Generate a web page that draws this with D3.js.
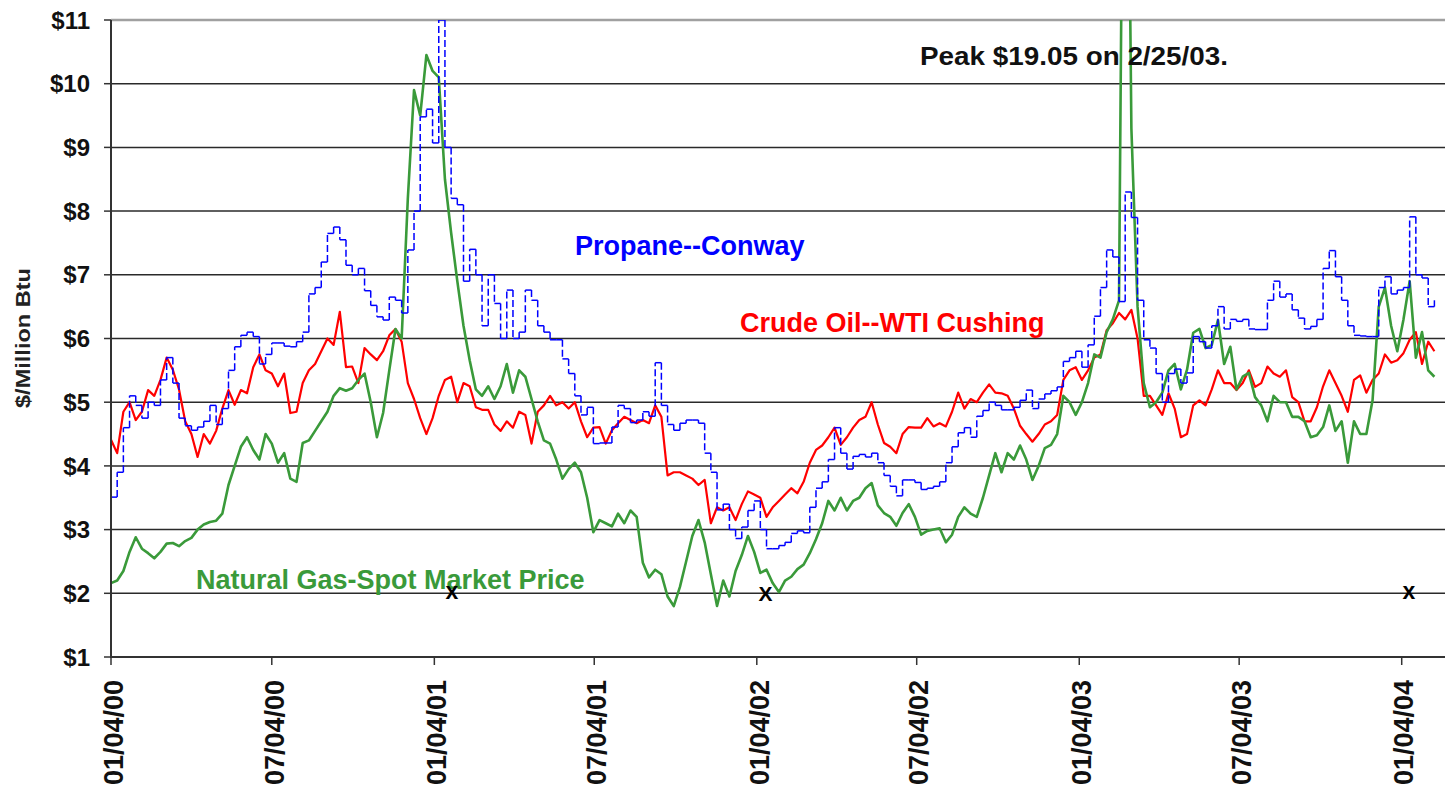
<!DOCTYPE html>
<html><head><meta charset="utf-8">
<script src="https://cdn.jsdelivr.net/npm/d3@7"></script>
<style>
html,body{margin:0;padding:0;background:#fff;}
svg{display:block;font-family:"Liberation Sans",Arial,Helvetica,sans-serif;}
</style></head><body>
<svg id="chart" width="1445" height="796"></svg>
<script>
// ---- data (weekly readings starting 2000-01-04) ----
const startDate = "2000-01-04";
const endDate = "2004-02-22";
const stepDays = 7;

const propane = [3.51,3.90,4.60,5.10,4.95,4.75,5.00,4.95,5.35,5.70,
5.30,4.75,4.63,4.56,4.61,4.70,4.95,4.65,4.90,5.50,
5.87,6.05,6.10,6.03,5.60,5.75,5.93,5.93,5.88,5.87,
5.95,6.10,6.70,6.80,7.20,7.65,7.75,7.55,7.15,7.00,
7.10,6.75,6.52,6.34,6.29,6.65,6.60,6.40,7.39,8.00,
9.48,9.60,9.07,11.00,9.00,8.20,8.10,6.90,7.40,7.00,
6.20,7.00,6.55,6.00,6.76,6.00,6.10,6.76,6.60,6.20,
6.10,5.98,5.98,5.68,5.45,5.10,4.80,4.92,4.35,4.36,
4.36,4.61,4.95,4.90,4.68,4.72,4.85,4.78,5.62,4.95,
4.65,4.56,4.67,4.72,4.72,4.67,4.20,3.90,3.31,3.40,
3.00,2.86,3.04,3.30,3.45,3.00,2.70,2.70,2.75,2.80,
2.94,2.98,2.95,3.35,3.65,3.75,4.10,4.60,4.20,3.95,
4.15,4.18,4.14,4.20,4.05,3.85,3.68,3.53,3.78,3.78,
3.74,3.63,3.65,3.68,3.75,4.05,4.30,4.52,4.60,4.45,
4.78,4.87,5.00,4.95,4.88,4.88,4.92,5.03,5.19,4.90,
5.05,5.13,5.18,5.24,5.64,5.70,5.80,5.55,5.90,6.35,
6.80,7.39,7.28,6.58,8.30,7.90,6.60,5.98,5.85,5.45,
5.00,5.45,5.52,5.30,5.46,6.03,5.95,5.85,6.20,6.50,
6.15,6.30,6.27,6.30,6.15,6.14,6.14,6.60,6.90,6.65,
6.70,6.45,6.32,6.15,6.19,6.30,7.10,7.38,6.97,6.60,
6.20,6.05,6.04,6.03,6.03,6.80,6.97,6.70,6.76,6.80,
7.91,7.00,6.95,6.50,6.60];

const crude = [4.41,4.20,4.85,5.00,4.72,4.85,5.19,5.10,5.35,5.70,
5.51,5.20,4.70,4.50,4.14,4.50,4.35,4.55,4.90,5.19,
4.96,5.19,5.14,5.55,5.75,5.50,5.45,5.25,5.45,4.83,
4.85,5.30,5.50,5.60,5.80,6.00,5.90,6.42,5.55,5.56,
5.30,5.85,5.75,5.66,5.80,6.05,6.15,5.95,5.30,5.05,
4.75,4.50,4.75,5.10,5.35,5.40,5.00,5.30,5.25,4.92,
4.88,4.88,4.65,4.55,4.70,4.60,4.85,4.80,4.35,4.85,
4.95,5.10,4.95,5.00,4.90,5.00,4.70,4.45,4.60,4.61,
4.35,4.56,4.67,4.77,4.72,4.67,4.72,4.67,4.95,4.77,
3.85,3.90,3.90,3.85,3.80,3.70,3.78,3.10,3.35,3.30,
3.35,3.15,3.40,3.60,3.55,3.50,3.20,3.35,3.45,3.55,
3.65,3.57,3.75,4.05,4.25,4.32,4.45,4.60,4.33,4.45,
4.60,4.72,4.77,5.00,4.65,4.36,4.30,4.20,4.50,4.61,
4.60,4.60,4.75,4.62,4.67,4.62,4.85,5.15,4.90,5.05,
5.00,5.15,5.28,5.15,5.14,5.10,4.90,4.63,4.50,4.38,
4.50,4.65,4.70,4.80,5.35,5.50,5.55,5.35,5.50,5.70,
5.75,6.13,6.24,6.40,6.30,6.45,6.00,5.10,5.10,4.95,
4.80,5.14,4.90,4.45,4.50,4.95,5.03,4.95,5.20,5.50,
5.30,5.30,5.19,5.30,5.50,5.24,5.30,5.56,5.45,5.40,
5.50,5.08,5.00,4.70,4.70,4.92,5.25,5.50,5.30,5.10,
4.85,5.35,5.42,5.15,5.35,5.45,5.75,5.62,5.66,5.77,
5.98,6.10,5.60,5.95,5.80];

const gas = [2.16,2.20,2.35,2.65,2.88,2.70,2.63,2.55,2.65,2.78,
2.79,2.74,2.82,2.87,3.00,3.08,3.12,3.14,3.25,3.70,
4.00,4.30,4.45,4.25,4.10,4.50,4.35,4.05,4.20,3.80,
3.75,4.36,4.40,4.55,4.70,4.85,5.10,5.22,5.18,5.22,
5.35,5.45,5.00,4.45,4.83,5.50,6.15,6.00,8.20,9.90,
9.50,10.45,10.20,10.10,8.50,7.66,6.90,6.20,5.66,5.20,
5.10,5.25,5.05,5.25,5.60,5.15,5.50,5.40,5.05,4.70,
4.40,4.35,4.10,3.80,3.95,4.05,3.90,3.50,2.96,3.15,
3.10,3.05,3.25,3.10,3.30,3.20,2.48,2.25,2.37,2.30,
1.95,1.80,2.10,2.50,2.90,3.15,2.80,2.30,1.80,2.20,
1.95,2.35,2.60,2.90,2.65,2.32,2.37,2.16,2.02,2.20,
2.26,2.38,2.45,2.63,2.85,3.10,3.45,3.30,3.50,3.30,
3.45,3.50,3.65,3.73,3.38,3.26,3.20,3.06,3.26,3.40,
3.20,2.92,2.98,3.00,3.02,2.80,2.92,3.20,3.35,3.25,
3.20,3.50,3.85,4.20,3.90,4.20,4.10,4.32,4.10,3.78,
4.00,4.28,4.33,4.50,5.10,5.00,4.80,5.00,5.30,5.75,
5.70,6.10,6.30,6.60,19.05,9.30,6.50,5.30,4.92,5.00,
5.15,5.50,5.60,5.20,5.51,6.09,6.15,5.85,5.90,6.29,
5.60,5.87,5.20,5.40,5.46,5.08,4.95,4.70,5.10,5.00,
5.00,4.77,4.77,4.70,4.45,4.48,4.61,4.95,4.55,4.70,
4.05,4.70,4.50,4.50,5.03,6.50,6.80,6.20,5.80,6.30,
6.90,5.70,6.10,5.50,5.40];

const seriesNames = ["Propane--Conway", "Crude Oil--WTI Cushing", "Natural Gas-Spot Market Price"];
const tickLabels = ["01/04/00","07/04/00","01/04/01","07/04/01","01/04/02","07/04/02","01/04/03","07/04/03","01/04/04"];
const yTicks = [1,2,3,4,5,6,7,8,9,10,11];
const markerDates = ["2001-01-24","2002-01-14","2004-01-12"];
const markerValues = [2,2,2];
const markerGlyphs = ["x","X","x"];
const peakNote = "Peak $19.05 on 2/25/03.";
const yTitle = "$/Million Btu";

// ---- drawing ----
(function () {
const parseISO = d3.timeParse("%Y-%m-%d");
const parseTick = d3.timeParse("%m/%d/%y");
const t0 = parseISO(startDate);
const dates = propane.map((_, i) => d3.timeDay.offset(t0, i * stepDays));

const pL = 111, pR = 1445, pT = 20, pB = 657;
const x = d3.scaleTime().domain([t0, parseISO(endDate)]).range([pL, pR]);
const y = d3.scaleLinear().domain([1, 11]).range([pB, pT]);

const svg = d3.select("#chart");
svg.append("rect").attr("width", 1445).attr("height", 796).attr("fill", "#fff");

svg.append("defs").append("clipPath").attr("id", "plotclip")
  .append("rect").attr("x", pL).attr("y", pT).attr("width", pR - pL).attr("height", pB - pT);

// gridlines
svg.append("g").selectAll("line").data(yTicks.filter(v => v > 1 && v < 11)).join("line")
  .attr("x1", pL).attr("x2", pR)
  .attr("y1", d => y(d)).attr("y2", d => y(d))
  .attr("stroke", "#2a2a2a").attr("stroke-width", 1.5);
svg.append("line").attr("x1", pL).attr("x2", pR).attr("y1", y(11)).attr("y2", y(11))
  .attr("stroke", "#a0a0a0").attr("stroke-width", 2.5);

const plot = svg.append("g").attr("clip-path", "url(#plotclip)");

const lineGen = d3.line().x((d, i) => x(dates[i])).y(d => y(d));

plot.append("path").datum(crude).attr("d", lineGen)
  .attr("fill", "none").attr("stroke", "#ff0000").attr("stroke-width", 2.2).attr("stroke-linejoin", "round");
plot.append("path").datum(gas).attr("d", lineGen)
  .attr("fill", "none").attr("stroke", "#3a9a3a").attr("stroke-width", 2.6).attr("stroke-linejoin", "round");

// propane: stepped line, each segment dashed separately
const segs = [];
for (let i = 0; i < propane.length - 1; i++) {
  segs.push({x1: x(dates[i]), y1: y(propane[i]), x2: x(dates[i + 1]), y2: y(propane[i])});
  segs.push({x1: x(dates[i + 1]), y1: y(propane[i]), x2: x(dates[i + 1]), y2: y(propane[i + 1])});
}
plot.append("g").selectAll("line").data(segs).join("line")
  .attr("x1", d => d.x1).attr("y1", d => d.y1).attr("x2", d => d.x2).attr("y2", d => d.y2)
  .attr("stroke", "#0000ff").attr("stroke-width", 1.5).attr("stroke-dasharray", "7,3");

// axes
const axisG = svg.append("g");
axisG.append("line").attr("x1", pL).attr("x2", pL).attr("y1", pT).attr("y2", pB + 1)
  .attr("stroke", "#333").attr("stroke-width", 2);
axisG.append("line").attr("x1", pL).attr("x2", pR).attr("y1", pB).attr("y2", pB)
  .attr("stroke", "#333").attr("stroke-width", 2);

axisG.selectAll(".ytick").data(yTicks).join("line").attr("class", "ytick")
  .attr("x1", pL - 7).attr("x2", pL).attr("y1", d => y(d)).attr("y2", d => y(d))
  .attr("stroke", "#333").attr("stroke-width", 1.5);
axisG.selectAll(".ylab").data(yTicks).join("text").attr("class", "ylab")
  .attr("x", 90).attr("y", d => y(d)).attr("dy", "0.36em")
  .attr("text-anchor", "end").attr("font-size", 24).attr("font-weight", "bold").attr("fill", "#111")
  .text(d => "$" + d);

const tickDates = tickLabels.map(parseTick);
axisG.selectAll(".xtick").data(tickDates).join("line").attr("class", "xtick")
  .attr("x1", d => x(d)).attr("x2", d => x(d)).attr("y1", pB).attr("y2", pB + 8)
  .attr("stroke", "#333").attr("stroke-width", 1.5);
axisG.selectAll(".xlab").data(tickLabels).join("text").attr("class", "xlab")
  .attr("transform", (d, i) => `translate(${x(tickDates[i]) + 2},680) rotate(-90)`)
  .attr("dy", "0.36em").attr("text-anchor", "end")
  .attr("font-size", 27).attr("font-weight", "bold").attr("fill", "#111")
  .text(d => d);

// y title
svg.append("text").attr("transform", "translate(22,338) rotate(-90)")
  .attr("dy", "0.36em").attr("text-anchor", "middle")
  .attr("font-size", 21).attr("font-weight", "bold").attr("fill", "#222")
  .attr("textLength", 140).attr("lengthAdjust", "spacingAndGlyphs")
  .text(yTitle);

// series labels
const labelStyle = [
  {name: seriesNames[0], color: "#0000ff", x: 575, y: 255},
  {name: seriesNames[1], color: "#ff0000", x: 740, y: 332},
  {name: seriesNames[2], color: "#3a9a3a", x: 196, y: 589}
];
svg.selectAll(".slab").data(labelStyle).join("text").attr("class", "slab")
  .attr("x", d => d.x).attr("y", d => d.y)
  .attr("font-size", 27).attr("font-weight", "bold").attr("fill", d => d.color)
  .text(d => d.name);

svg.append("text").attr("x", 920).attr("y", 65)
  .attr("font-size", 26).attr("font-weight", "bold").attr("fill", "#111")
  .attr("textLength", 308).attr("lengthAdjust", "spacingAndGlyphs")
  .text(peakNote);

// x markers
svg.selectAll(".mark").data(markerDates).join("text").attr("class", "mark")
  .attr("x", d => x(parseISO(d))).attr("y", (d, i) => y(markerValues[i]))
  .attr("dy", (d, i) => markerGlyphs[i] === "X" ? "0.36em" : "0.25em")
  .attr("text-anchor", "middle")
  .attr("font-size", (d, i) => markerGlyphs[i] === "X" ? 21 : 23)
  .attr("font-weight", "bold").attr("fill", "#000")
  .text((d, i) => markerGlyphs[i]);
})();
</script>
</body></html>
